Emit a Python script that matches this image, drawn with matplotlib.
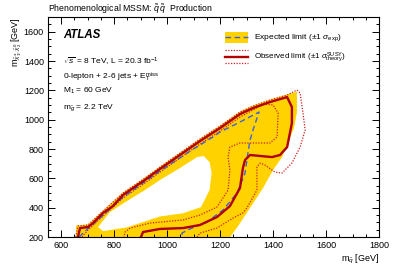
import matplotlib
matplotlib.use("Agg")
import matplotlib.pyplot as plt
from matplotlib.ticker import MultipleLocator

plt.rcParams['font.family'] = ['Liberation Sans', 'DejaVu Sans']
plt.rcParams['mathtext.fontset'] = 'custom'
plt.rcParams['mathtext.rm'] = 'Liberation Sans'
plt.rcParams['mathtext.it'] = 'Liberation Sans:italic'
plt.rcParams['mathtext.bf'] = 'Liberation Sans:bold'

# expected +-1 sigma band (outer edge) and the hole inside it
band_x = [656, 656, 701, 758, 833, 916, 973, 1124, 1200, 1275, 1324, 1388, 1453, 1490,
          1490, 1479, 1453, 1434, 1400, 1362, 1313, 1268, 1234]
band_y = [190, 277, 286, 380, 503, 605, 680, 870, 960, 1055, 1096, 1137, 1172, 1190,
          1052, 943, 827, 745, 657, 534, 398, 275, 190]
hole_x = [739, 784, 848, 916, 973, 1048, 1113, 1138, 1160, 1168, 1160, 1128, 1060, 973, 848, 758]
hole_y = [268, 370, 445, 520, 589, 670, 745, 752, 711, 636, 520, 404, 362, 340, 266, 240]

# expected limit
exp_x = [667, 701, 758, 833, 973, 1086, 1173, 1200, 1275, 1347,
         1324, 1313, 1305, 1294, 1264, 1211, 1150, 1086, 1056, 1056]
exp_y = [200, 258, 348, 472, 650, 785, 882, 916, 984, 1052,
         929, 861, 773, 636, 500, 384, 302, 255, 227, 200]

# observed limit
obs_x = [663, 671, 701, 720, 758, 795, 833, 916, 973, 1124, 1200, 1275, 1324, 1388, 1453,
         1471, 1471, 1453, 1426, 1396, 1313, 1294, 1286, 1275, 1237, 1188, 1124, 1060, 973, 909, 901]
obs_y = [200, 261, 268, 295, 364, 411, 486, 589, 664, 854, 943, 1038, 1079, 1120, 1154,
         1086, 977, 813, 759, 745, 759, 725, 670, 534, 411, 336, 282, 261, 255, 234, 200]

# observed -1 sigma theory
obs_lo_x = [678, 701, 758, 833, 916, 973, 1124, 1200, 1275, 1324, 1362, 1400, 1419, 1415, 1388,
            1275, 1237, 1230, 1237, 1230, 1188, 1124, 1060, 935, 860, 841, 837]
obs_lo_y = [200, 248, 343, 466, 568, 643, 834, 923, 1018, 1066, 1107, 1100, 1045, 882, 841,
            841, 813, 745, 657, 520, 404, 350, 316, 295, 261, 234, 200]

# observed +1 sigma theory
obs_hi_x = [655, 663, 701, 758, 833, 916, 973, 1124, 1200, 1275, 1324, 1388, 1453, 1490, 1502,
            1513, 1521, 1502, 1471, 1434, 1407, 1369, 1351, 1339, 1339, 1301, 1286, 1249, 1188, 1124, 1113]
obs_hi_y = [200, 275, 282, 377, 500, 602, 677, 868, 957, 1052, 1093, 1134, 1168, 1202, 1182,
            1045, 929, 813, 704, 636, 643, 691, 704, 677, 520, 398, 364, 330, 261, 227, 200]

yellow = '#ffd200'
dark_red = '#b00000'
dot_red = '#d42020'
blue = '#4060d8'

fig = plt.figure(figsize=(3.99, 2.70), dpi=100)
ax = fig.add_axes([0.1203, 0.1222, 0.8296, 0.8148])

ax.fill(band_x, band_y, color=yellow, lw=0)
ax.fill(hole_x, hole_y, color='white', lw=0)
ax.plot(obs_hi_x, obs_hi_y, color=dot_red, lw=0.9, ls=(0, (1, 1.2)))
ax.plot(obs_lo_x, obs_lo_y, color=dot_red, lw=0.9, ls=(0, (1, 1.2)))
ax.plot(exp_x, exp_y, color=blue, lw=1.0, ls=(0, (4, 2.5)))
ax.plot(obs_x, obs_y, color=dark_red, lw=1.7)

ax.set_xlim(550, 1800)
ax.set_ylim(200, 1700)
ax.xaxis.set_major_locator(MultipleLocator(200))
ax.xaxis.set_minor_locator(MultipleLocator(50))
ax.yaxis.set_major_locator(MultipleLocator(200))
ax.yaxis.set_minor_locator(MultipleLocator(50))
ax.set_yticks(range(200, 1700, 200))
ax.tick_params(which='both', direction='in', top=True, right=True, labelsize=6.5, width=0.7)
ax.tick_params(which='major', length=5, pad=3)
ax.tick_params(which='minor', length=2.5)
for s in ax.spines.values():
    s.set_linewidth(0.8)

ax.set_xlabel(r'$\mathrm{m}_{\tilde{q}}$ [GeV]', fontsize=6.5, loc='right', labelpad=2)
ax.set_ylabel(r'$\mathrm{m}_{\tilde{\chi}^{\pm}_{1},\tilde{\chi}^{0}_{2}}$ [GeV]', fontsize=6.5,
              loc='top', labelpad=0)

fig.text(0.12, 0.968, r'Phenomenological MSSM: $\tilde{q}\,\tilde{q}$  Production', fontsize=6.3,
         ha='left', va='center')

ax.text(0.045, 0.92, 'ATLAS', transform=ax.transAxes, fontsize=8.3, fontweight='bold',
        fontstyle='italic', va='center')
ax.text(0.045, 0.795, r'$\sqrt{s}$ = 8 TeV, L = 20.3 fb$^{-1}$', transform=ax.transAxes,
        fontsize=6, va='center')
ax.text(0.045, 0.727, r'0-lepton + 2-6 jets + $\mathrm{E}_{\mathrm{T}}^{\mathrm{miss}}$',
        transform=ax.transAxes, fontsize=6, va='center')
ax.text(0.045, 0.664, r'$\mathrm{M}_{1}$ = 60 GeV', transform=ax.transAxes, fontsize=6, va='center')
ax.text(0.045, 0.59, r'$\mathrm{m}_{\tilde{g}}$ = 2.2 TeV', transform=ax.transAxes, fontsize=6, va='center')

# legend drawn by hand, ROOT style
tr = ax.transAxes
ax.add_patch(plt.Rectangle((0.535, 0.882), 0.069, 0.05, transform=tr, color=yellow, lw=0))
ax.plot([0.535, 0.604], [0.907, 0.907], transform=tr, color=blue, lw=1.0, ls=(0, (4, 2.5)))
ax.text(0.622, 0.907, r'Expected limit ($\pm 1\ \sigma_{\mathrm{exp}}$)', transform=tr,
        fontsize=6, va='center')
ax.plot([0.535, 0.604], [0.85, 0.85], transform=tr, color=dot_red, lw=0.9, ls=(0, (1, 1.2)))
ax.plot([0.535, 0.604], [0.82, 0.82], transform=tr, color=dark_red, lw=1.7)
ax.plot([0.535, 0.604], [0.79, 0.79], transform=tr, color=dot_red, lw=0.9, ls=(0, (1, 1.2)))
ax.text(0.622, 0.82, r'Observed limit ($\pm 1\ \sigma^{\mathrm{SUSY}}_{\mathrm{theory}}$)', transform=tr,
        fontsize=5.8, va='center')

fig.savefig('out.png', dpi=100)
